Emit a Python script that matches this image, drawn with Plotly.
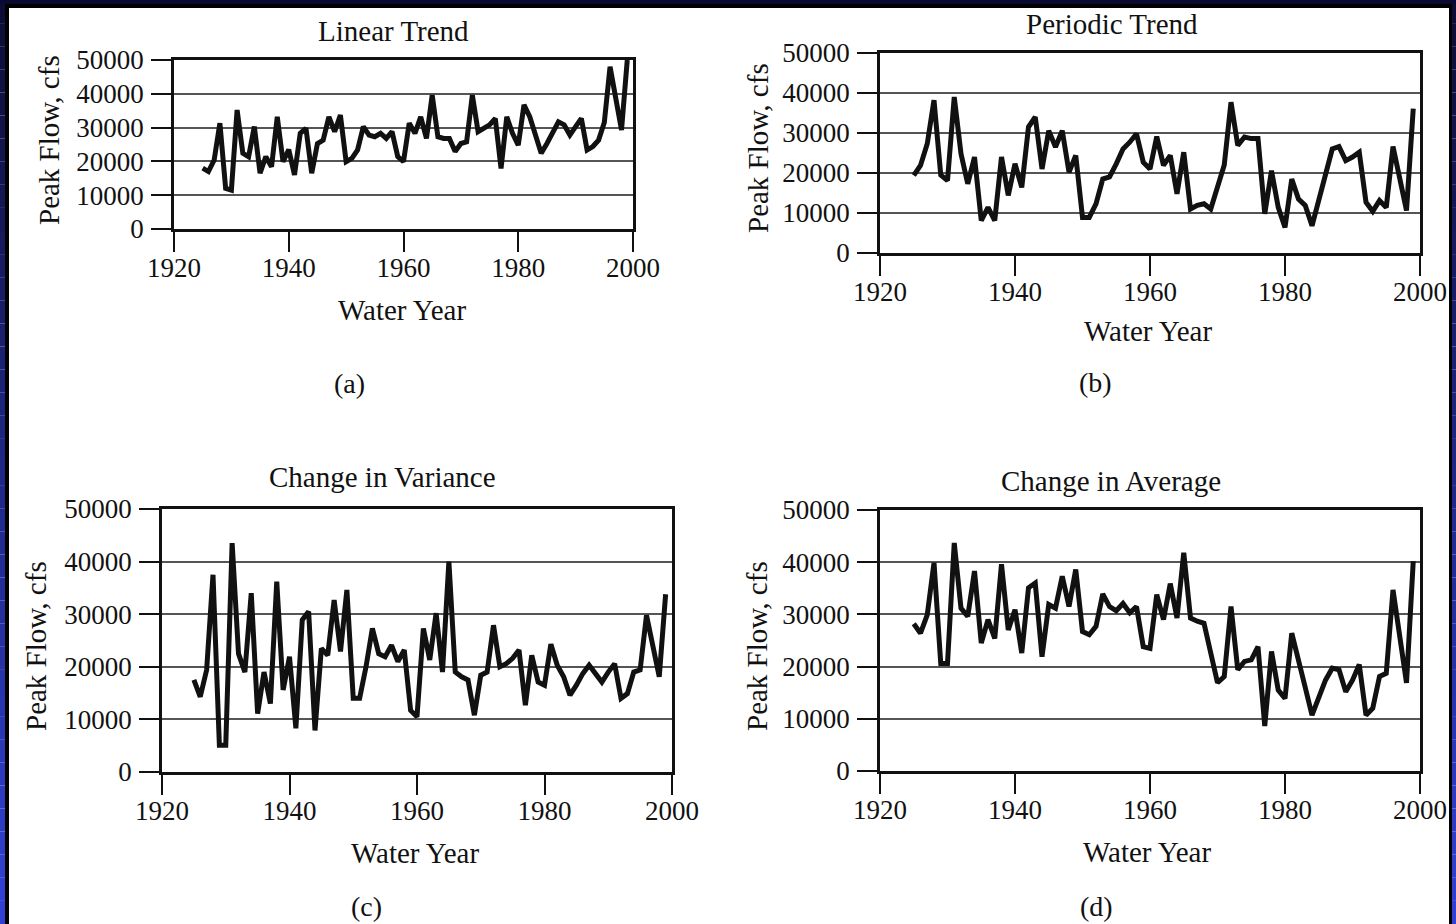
import plotly.graph_objects as go

# Water years shared by all four series
years = list(range(1925, 2000))

# Annual peak flow, cfs
linear_trend = [
    18000, 17000, 20400, 31300, 12000, 11500, 35200, 22400, 21400, 30300,
    16500, 21400, 18400, 33200, 19900, 23500, 16000, 28300, 29800, 16500,
    25300, 26300, 33200, 28800, 33700, 19900, 20900, 23400, 30300, 27800,
    27300, 28300, 26800, 28800, 21400, 19900, 31300, 28300, 33200, 26800,
    39600, 27300, 26800, 26800, 22900, 25300, 25800, 39600, 28800, 29800,
    30800, 32700, 17900, 33200, 28300, 24800, 36700, 33200, 28300, 22400,
    25300, 28800, 31700, 30800, 27800, 30300, 32700, 23400, 24400, 26300,
    31500, 48000, 38000, 29300, 50000,
]
periodic_trend = [
    19400, 21900, 27300, 38200, 19500, 18100, 39000, 24800, 17300, 24000,
    8100, 11400, 8100, 24000, 14400, 22300, 16400, 31500, 34000, 21000,
    30600, 26500, 30600, 20200, 24400, 8900, 8900, 12300, 18500, 19000,
    22300, 26000, 27700, 29800, 22700, 21000, 29100, 21900, 24400, 14800,
    25200, 11000, 11900, 12300, 11000, 17000, 22000, 37700, 26900, 29000,
    28600, 28600, 9800, 20600, 11400, 6400, 18500, 13500, 11900, 6800,
    13100, 19800, 26000, 26600, 23100, 24000, 25200, 12700, 10400, 13100,
    11400, 26600, 18100, 10600, 36100,
]
change_in_variance = [
    17500, 14300, 19400, 37500, 5100, 5100, 43500, 22500, 19000, 34000,
    11100, 19000, 13000, 36200, 15600, 21900, 8300, 28900, 30500, 7900,
    23500, 22200, 32700, 22900, 34600, 14000, 14000, 20000, 27300, 22500,
    21900, 24100, 21000, 23200, 11700, 10500, 27300, 21300, 30200, 19000,
    40000, 19000, 18100, 17500, 10800, 18400, 19000, 27900, 20000, 20600,
    21600, 23200, 12700, 22200, 17100, 16500, 24300, 20300, 18100, 14600,
    16500, 18700, 20300, 18700, 17100, 19000, 20600, 14000, 14900, 19000,
    19400, 29800, 24400, 18100, 33800,
]
change_in_average = [
    28200, 26400, 29900, 39900, 20600, 20600, 43700, 31200, 29600, 38300,
    24500, 29000, 25400, 39600, 27000, 30900, 22600, 35100, 36000, 21900,
    31900, 31200, 37300, 31500, 38600, 26700, 26100, 27700, 33900, 31500,
    30700, 32100, 30300, 31500, 23800, 23500, 33800, 29000, 35900, 29300,
    41800, 29300, 28700, 28300, 22600, 16900, 18100, 31500, 19400, 21000,
    21300, 23800, 8600, 22900, 15500, 13900, 26400, 21500, 16000, 10700,
    14200, 17400, 19700, 19400, 15200, 17400, 20400, 10700, 12000, 18100,
    18700, 34700, 25800, 16900, 40200,
]

# Axis ticks
year_ticks = [1920, 1940, 1960, 1980, 2000]
year_labels = ["1920", "1940", "1960", "1980", "2000"]
flow_ticks = [0, 10000, 20000, 30000, 40000, 50000]
flow_labels = ["0", "10000", "20000", "30000", "40000", "50000"]

panel_titles = ["Linear Trend", "Periodic Trend", "Change in Variance", "Change in Average"]
panel_tags = ["(a)", "(b)", "(c)", "(d)"]
series = [linear_trend, periodic_trend, change_in_variance, change_in_average]

W, H = 1456, 924
SERIF = "Liberation Serif"
INK = "#111111"

# Pixel boxes of the four plot areas: (left, right, top, bottom)
boxes = [
    (174, 633, 60, 229),
    (880, 1420, 53, 253),
    (162, 672, 509, 772),
    (880, 1420, 510, 771),
]
# Text anchor points in pixels
title_pos = [(393, 31), (1112, 24), (382, 477), (1111, 481)]
xtitle_pos = [(402, 310), (1148, 331), (415, 853), (1147, 852)]
ytitle_pos = [(49, 140), (758, 148), (36, 646), (757, 646)]
tag_pos = [(349, 383), (1095, 382), (366, 906), (1096, 906)]


def px(x):
    return x / W


def py(y):
    return 1 - y / H


fig = go.Figure()
annotations = []

for i, (vals, box) in enumerate(zip(series, boxes)):
    n = i + 1
    xa = "x" if n == 1 else f"x{n}"
    ya = "y" if n == 1 else f"y{n}"
    fig.add_trace(go.Scatter(
        x=years, y=vals, mode="lines", xaxis=xa, yaxis=ya,
        line=dict(color="#111111", width=5), showlegend=False,
        hoverinfo="skip",
    ))
    l, r, t, b = box
    common = dict(
        showline=True, linecolor="#111111", linewidth=2.5, mirror=True,
        ticks="outside", ticklen=20, tickwidth=2, tickcolor="#111111",
        tickfont=dict(family=SERIF, size=27, color=INK),
        zeroline=False, automargin=False, fixedrange=True,
    )
    fig.layout[f"xaxis{'' if n == 1 else n}"] = dict(
        domain=[px(l), px(r)], range=[1920, 2000], anchor=ya,
        tickmode="array", tickvals=year_ticks, ticktext=year_labels,
        showgrid=False, ticklabelstandoff=-7, **common,
    )
    fig.layout[f"yaxis{'' if n == 1 else n}"] = dict(
        domain=[py(b), py(t)], range=[0, 50000], anchor=xa,
        tickmode="array", tickvals=flow_ticks, ticktext=flow_labels,
        showgrid=True, gridcolor="#555555", gridwidth=2,
        ticklabelstandoff=2, **common,
    )

    for text, (x, y), size, ang in [
        (panel_titles[i], title_pos[i], 29, 0),
        ("Water Year", xtitle_pos[i], 29, 0),
        ("Peak Flow, cfs", ytitle_pos[i], 29, -90),
        (panel_tags[i], tag_pos[i], 28, 0),
    ]:
        annotations.append(dict(
            text=text, x=px(x), y=py(y), xref="paper", yref="paper",
            xanchor="center", yanchor="middle", showarrow=False,
            textangle=ang, font=dict(family=SERIF, size=size, color=INK),
        ))

# Dark blue frame around the page, brighter toward the bottom
shapes = []


def mix(c0, c1, f):
    return "#%02x%02x%02x" % tuple(round(a + (b - a) * f) for a, b in zip(c0, c1))


top_col = (12, 12, 52)
bot_col = (50, 66, 214)
steps = 40
for k in range(steps):
    y0, y1 = k / steps * H, (k + 1) / steps * H
    c = mix(top_col, bot_col, (k + 0.5) / steps)
    for x0, x1 in [(0, 5), (1452, W)]:
        shapes.append(dict(type="rect", xref="paper", yref="paper",
                           x0=px(x0), x1=px(x1), y0=py(y1), y1=py(y0),
                           fillcolor=c, line=dict(width=0), layer="above"))
shapes.append(dict(type="rect", xref="paper", yref="paper",
                   x0=0, x1=1, y0=py(4), y1=1,
                   fillcolor="#0a0a30", line=dict(width=0), layer="above"))
for x0, x1, y0, y1 in [(5, 9, 4, H), (1449, 1452, 4, H), (5, 1452, 4, 8)]:
    shapes.append(dict(type="rect", xref="paper", yref="paper",
                       x0=px(x0), x1=px(x1), y0=py(y1), y1=py(y0),
                       fillcolor="#000000", line=dict(width=0), layer="above"))

fig.update_layout(
    width=W, height=H, margin=dict(l=0, r=0, t=0, b=0),
    paper_bgcolor="white", plot_bgcolor="white",
    annotations=annotations, shapes=shapes, showlegend=False,
)

fig.write_html("out.html", config={"displayModeBar": False})
